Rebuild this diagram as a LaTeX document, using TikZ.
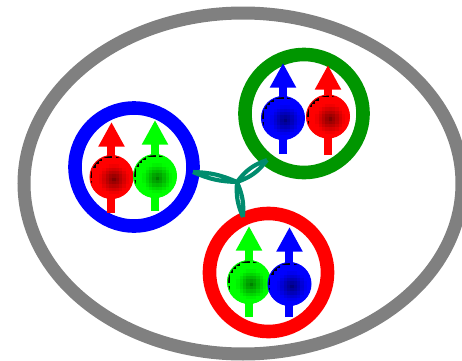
\documentclass[tikz,border=0pt]{standalone}
\usepackage{amsmath, amssymb}
\usetikzlibrary{arrows.meta, calc}

\definecolor{gluon}{RGB}{0,140,110}
\definecolor{ringgreen}{RGB}{0,150,0}

\tikzset{
	bag/.style={draw=gray, line width=9.75pt},
	ring/.style={draw=#1, circle, line width=10.2pt, minimum size=88.5pt, inner sep=0pt, outer sep=0pt},
	ball/.style={draw=#1, circle, line width=.8pt, minimum size=32.2pt, inner sep=0pt, outer sep=0pt},
	spin/.style={draw=#1, line width=6pt, -{Triangle[width=18.5pt,length=18.5pt,fill=#1]}},
	glue/.style={draw=gluon, line width=3.1pt, line join=round}
}

% one quark: arrow behind, blocky shaded disc on top
\newcommand{\spinball}[6]{
	\coordinate (#1tip) at (#2,#5);
	\coordinate (#1tail) at (#2,#6);
	\draw[spin=#4] (#1tail) -- (#1tip);
	\begin{scope}
		\clip (#2,#3) circle[radius=21.5];
		\fill[black] (#2,#3) circle[radius=21.5];
		\foreach \i in {-8,...,8}
			\foreach \j in {-8,...,8}{
				\pgfmathsetmacro{\dist}{3.33*sqrt(\i*\i+\j*\j)}
				\pgfmathtruncatemacro{\mix}{min(100,50+50*\dist/15)}
				\pgfmathtruncatemacro{\keep}{\dist<23.5 ? 1 : 0}
				\ifnum\keep=1
					\fill[#4!\mix!black, shift={(#2+2.5,#3+2.5)}] (\i*3.33-1.8,\j*3.33-1.8) rectangle +(3.6,3.6);
				\fi
			}
	\end{scope}
	\node[ball=#4] (#1) at (#2,#3) {};
}

\begin{document}
\begin{tikzpicture}[x=.75pt, y=-.75pt]
	\useasboundingbox (0,0) rectangle (462,361);
	\draw[bag] (243,183.5) ellipse[x radius=219, y radius=170.5];

	\node[ring=blue] (bluering) at (134,167) {};
	\node[ring=ringgreen] (greenring) at (304,113.5) {};
	\node[ring=red] (redring) at (268.5,272.5) {};

	\spinball{redA}{111.5}{177}{red}{122}{213}
	\spinball{greenA}{155}{176}{green}{120}{211}
	\spinball{blueB}{283}{118}{blue}{63}{154}
	\spinball{redB}{328}{116.5}{red}{65}{155}
	\spinball{greenC}{249}{282}{green}{226}{317}
	\spinball{blueC}{289.5}{284}{blue}{227}{317}

	% string junction between the three bags
	\coordinate (junction) at (237,182);
	\coordinate (endblue) at (193,172);
	\coordinate (endgreen) at (267,160);
	\coordinate (endred) at (243,217);
	\draw[glue] (endblue) to[bend left=11] (junction) to[bend left=11] (endblue);
	\draw[glue] (endgreen) to[bend left=17] (junction) to[bend left=17] (endgreen);
	\draw[glue] (endred) to[bend left=14] (junction) to[bend left=14] (endred);
\end{tikzpicture}
\end{document}
